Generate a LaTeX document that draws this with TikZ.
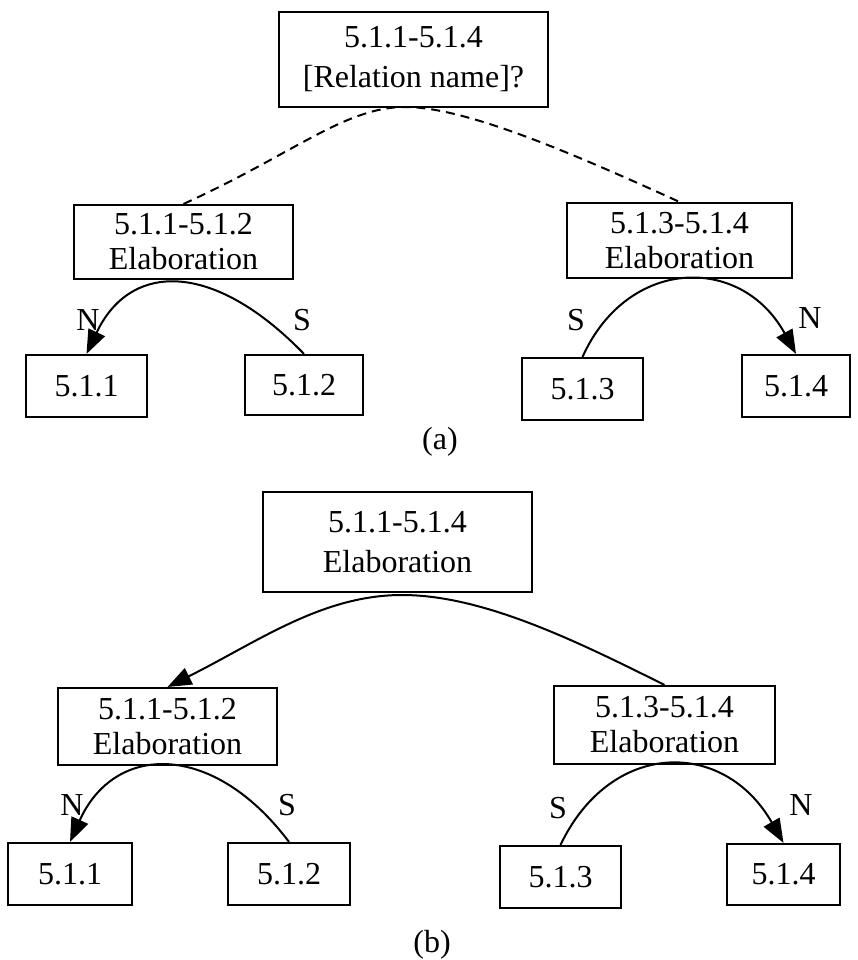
\documentclass[tikz,border=0pt]{standalone}
\usepackage{fontspec}
\setmainfont{Liberation Serif}
\usetikzlibrary{arrows.meta}

\tikzset{
  box/.style={draw, line width=2.1pt, inner sep=0pt, align=center,
              font=\fontsize{32}{35}\selectfont},
  topbox/.style={box, font=\fontsize{32}{40}\selectfont},
  link/.style={line width=2pt},
  tip/.style={-{Triangle[length=24pt,width=18pt]}},
  rel/.style={link, dashed, dash pattern=on 9pt off 6pt},
  nslabel/.style={font=\fontsize{32}{35}\selectfont, inner sep=0pt},
  caption/.style={font=\fontsize{32}{35}\selectfont, inner sep=0pt},
}

\begin{document}
\begin{tikzpicture}[x=1pt, y=-1pt]
  \fill[white] (0,0) rectangle (857,960);
  \useasboundingbox (0,0) rectangle (857,960);

  % ---------- tree (a): relation still unknown ----------
  \node[topbox, minimum width=269pt, minimum height=95pt] (topA) at (413.5,59.5)
       {5.1.1-5.1.4\\{[}Relation name]?};
  \node[box, minimum width=219pt, minimum height=74pt] (lA) at (183.5,242)
       {5.1.1-5.1.2\\Elaboration};
  \node[box, minimum width=225pt, minimum height=75pt] (rA) at (679.5,240.5)
       {5.1.3-5.1.4\\Elaboration};
  \node[box, minimum width=121pt, minimum height=62pt] (a1) at (86.5,386) {5.1.1};
  \node[box, minimum width=118pt, minimum height=60pt] (a2) at (304,385) {5.1.2};
  \node[box, minimum width=121pt, minimum height=62pt] (a3) at (582.5,389) {5.1.3};
  \node[box, minimum width=108pt, minimum height=62pt] (a4) at (796,386) {5.1.4};

  \coordinate (apexA) at (405,107);
  \draw[rel] (lA.north) .. controls +(110,-50) and +(-60,0) .. (apexA)
                        .. controls +(60,0) and +(-110,-50) .. (rA.north);

  \draw[link,tip] (a2.north) .. controls +(-90,-93) and +(44,-93) .. (a1.north);
  \draw[link,tip] (a3.north) .. controls +(45,-100) and +(-55,-100) .. (a4.north);

  \node[nslabel] (nA1) at (88,320) {N};
  \node[nslabel] (sA2) at (302,320) {S};
  \node[nslabel] (sA3) at (576,320) {S};
  \node[nslabel] (nA4) at (810,318) {N};

  \node[caption] (capA) at (440,442) {(a)};

  % ---------- tree (b): relation resolved ----------
  \node[topbox, minimum width=269pt, minimum height=100pt] (topB) at (397.5,542)
       {5.1.1-5.1.4\\Elaboration};
  \node[box, minimum width=219pt, minimum height=77pt] (lB) at (167.5,726.5)
       {5.1.1-5.1.2\\Elaboration};
  \node[box, minimum width=221pt, minimum height=78pt] (rB) at (664.5,725)
       {5.1.3-5.1.4\\Elaboration};
  \node[box, minimum width=124pt, minimum height=62pt] (b1) at (70,874) {5.1.1};
  \node[box, minimum width=122pt, minimum height=62pt] (b2) at (289,874) {5.1.2};
  \node[box, minimum width=121pt, minimum height=62pt] (b3) at (560.5,877) {5.1.3};
  \node[box, minimum width=113pt, minimum height=61pt] (b4) at (783.5,874.5) {5.1.4};

  \coordinate (apexB) at (402,595);
  \draw[link,tip] (rB.north) .. controls +(-90,-45) and +(80,0) .. (apexB)
                             .. controls +(-80,0) and +(90,-45) .. (lB.north);

  \draw[link,tip] (b2.north) .. controls +(-75,-100) and +(45,-100) .. (b1.north);
  \draw[link,tip] (b3.north) .. controls +(50,-105) and +(-60,-105) .. (b4.north);

  \node[nslabel] (nB1) at (72,805) {N};
  \node[nslabel] (sB2) at (287,805) {S};
  \node[nslabel] (sB3) at (558,808) {S};
  \node[nslabel] (nB4) at (801,805) {N};

  \node[caption] (capB) at (432,945) {(b)};
\end{tikzpicture}
\end{document}
